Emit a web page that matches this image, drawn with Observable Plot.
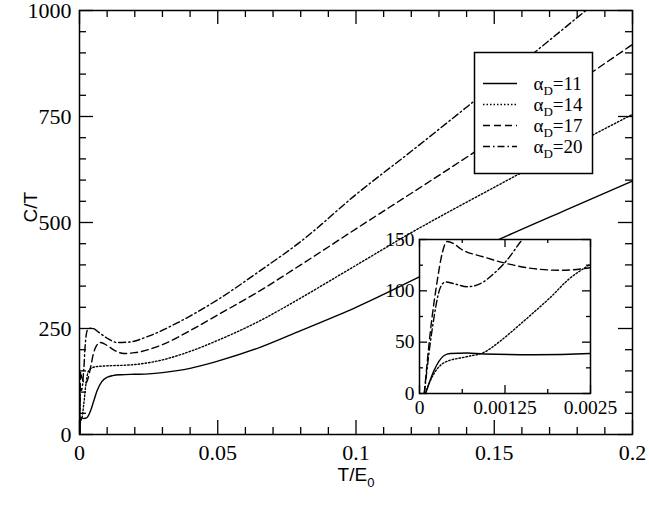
<!DOCTYPE html>
<html><head><meta charset="utf-8">
<script src="https://cdn.jsdelivr.net/npm/d3@7"></script>
<script src="https://cdn.jsdelivr.net/npm/@observablehq/plot@0.6"></script>
<style>
body{margin:0;background:#fff;}
#wrap{position:relative;width:649px;height:518px;}
#wrap svg{position:absolute;}
</style></head><body><div id="wrap"></div>
<script>
// ---- data ----
const seriesNames = ["11", "14", "17", "20"];

const T_a11 = [0.00009,0.00021,0.00036,0.00045,0.0007,0.00094,0.00167,0.0025,0.003,0.004,0.005,0.0064,0.008,0.01,0.012,0.015,0.02,0.025,0.03,0.04,0.05,0.0655,0.08,0.1,0.125,0.15,0.175,0.2];
const C_a11 = [0,22,37,39,39.5,38.5,37.8,39,42,56,76,104,124,135,139,141,142,143,146,156,173,206,245,300,378,455,527,598];

const T_a14 = [0.00008,0.0002,0.00036,0.0007,0.00094,0.00118,0.00143,0.00167,0.00192,0.00216,0.0025,0.003,0.0035,0.0045,0.006,0.01,0.015,0.02,0.03,0.04,0.05,0.0655,0.08,0.1,0.12,0.15,0.175,0.2];
const C_a14 = [0,18,30,36,40,51,65,79,94,110,126,145,152,157,160,162,163,165,176,196,222,269,322,399,476,583,670,755];

const T_a17 = [0.00007,0.00016,0.00026,0.00033,0.0004,0.0005,0.0006,0.00094,0.00128,0.00167,0.00206,0.0025,0.003,0.004,0.005,0.006,0.0076,0.01,0.013,0.016,0.02,0.03,0.04,0.05,0.0655,0.08,0.1,0.125,0.15,0.175,0.2];
const C_a17 = [0,61,110,136,148,146,141,133,126.5,121.6,120,122.6,130,158,190,208,217,210,197,191,193,212,245,282,340,400,485,590,697,808,920];

const T_a20 = [0.00007,0.00018,0.00031,0.00038,0.0005,0.0007,0.00089,0.00109,0.00128,0.00148,0.0016,0.002,0.0025,0.003,0.004,0.005,0.007,0.01,0.0137,0.018,0.025,0.035,0.05,0.0655,0.08,0.1,0.12,0.14,0.16,0.185];
const C_a20 = [0,60,104,108.6,107,104,107,117,130,148,158,205,238,248,251,250,241,227,217,218,232,262,318,387,455,566,668,772,877,1010];

// tick positions / labels
const xMajor = [0, 0.05, 0.1, 0.15, 0.2];
const xMinor = [0.01,0.02,0.03,0.04,0.06,0.07,0.08,0.09,0.11,0.12,0.13,0.14,0.16,0.17,0.18,0.19];
const yMajor = [0, 250, 500, 750, 1000];
const yMinor = [50,100,150,200,300,350,400,450,550,600,650,700,800,850,900,950];
const ixMajor = [0, 0.00125, 0.0025];
const ixMinor = [0.000625, 0.001875];
const iyMajor = [0, 50, 100, 150];
const iyMinor = [25, 75, 125];

// ---- build tables ----
const Ts = [T_a11, T_a14, T_a17, T_a20];
const Cs = [C_a11, C_a14, C_a17, C_a20];
const series = seriesNames.map((name, i) => Ts[i].map((t, j) => ({series: name, T: t, C: Cs[i][j]})));
const dashes = [null, "1.5,2", "7,4", "7,3,1.5,3"];

const serif = "Liberation Serif, Times New Roman, serif";
const sans = "Liberation Sans, Arial, sans-serif";

function lineMarks(rows, sw) {
  return rows.map((r, i) => Plot.line(r, {x: "T", y: "C", stroke: "black", strokeWidth: sw,
    strokeDasharray: dashes[i], clip: true, curve: "monotone-x"}));
}
function tickMarks(xMaj, xMin, yMaj, yMin, pw, ph, big, small) {
  const sw = 1.3;
  return [
    Plot.ruleX(xMaj, {x: d => d, insetTop: ph - big, strokeWidth: sw}),
    Plot.ruleX(xMaj, {x: d => d, insetBottom: ph - big, strokeWidth: sw}),
    Plot.ruleX(xMin, {x: d => d, insetTop: ph - small, strokeWidth: sw}),
    Plot.ruleX(xMin, {x: d => d, insetBottom: ph - small, strokeWidth: sw}),
    Plot.ruleY(yMaj, {y: d => d, insetRight: pw - big, strokeWidth: sw}),
    Plot.ruleY(yMaj, {y: d => d, insetLeft: pw - big, strokeWidth: sw}),
    Plot.ruleY(yMin, {y: d => d, insetRight: pw - small, strokeWidth: sw}),
    Plot.ruleY(yMin, {y: d => d, insetLeft: pw - small, strokeWidth: sw})
  ];
}

// ---- main chart ----
const W = 649, H = 518, mL = 79, mR = 17, mT = 10, mB = 84;
const main = Plot.plot({
  width: W, height: H, marginLeft: mL, marginRight: mR, marginTop: mT, marginBottom: mB,
  x: {domain: [0, 0.2], axis: null},
  y: {domain: [0, 1000], axis: null},
  style: {overflow: "visible", background: "white"},
  marks: [
    ...lineMarks(series, 1.4),
    ...tickMarks(xMajor, xMinor, yMajor, yMinor, W - mL - mR, H - mT - mB, 14, 7),
    Plot.frame({stroke: "black", strokeWidth: 1.5}),
    Plot.axisX({ticks: xMajor, tickSize: 0, tickPadding: 10, tickFormat: d => String(d), fontSize: 22, fontFamily: serif, label: null}),
    Plot.axisY({ticks: yMajor, tickSize: 0, tickPadding: 8, tickFormat: d => String(d), fontSize: 22, fontFamily: serif, label: null}),
    Plot.text(["C/T"], {text: d => d, frameAnchor: "left", dx: -49, rotate: -90, fontSize: 19, fontFamily: sans}),
    Plot.text(["T/E"], {text: d => d, frameAnchor: "bottom", dy: 46, fontSize: 19, fontFamily: sans})
  ]
});
d3.select(main).selectAll("text").filter(function () { return this.textContent === "T/E"; })
  .append("tspan").attr("font-size", 13).attr("dy", 6).text("0");

// ---- inset ----
const iL = 40, iR = 30, iT = 8, iB = 28, iW = 241, iH = 190;
const inset = Plot.plot({
  width: iW, height: iH, marginLeft: iL, marginRight: iR, marginTop: iT, marginBottom: iB,
  x: {domain: [0, 0.0025], axis: null},
  y: {domain: [0, 150], axis: null},
  style: {overflow: "visible", background: "transparent"},
  marks: [
    Plot.frame({fill: "white", stroke: null}),
    ...lineMarks(series.map(r => r.filter(d => d.T <= 0.003)), 1.4),
    ...tickMarks(ixMajor, ixMinor, iyMajor, iyMinor, iW - iL - iR, iH - iT - iB, 8, 4),
    Plot.frame({stroke: "black", strokeWidth: 1.5}),
    Plot.axisX({ticks: ixMajor, tickSize: 0, tickPadding: 7, tickFormat: d => String(d), fontSize: 19.5, fontFamily: serif, label: null}),
    Plot.axisY({ticks: iyMajor, tickSize: 0, tickPadding: 5, tickFormat: d => String(d), fontSize: 19.5, fontFamily: serif, label: null})
  ]
});
inset.style.left = (419 - iL) + "px";
inset.style.top = (239 - iT) + "px";

// ---- legend ----
const legend = Plot.plot({
  width: 120, height: 123, margin: 1,
  x: {domain: [0, 1], axis: null},
  y: {type: "point", domain: seriesNames, range: [21, 105], axis: null},
  style: {overflow: "visible", background: "transparent"},
  marks: [
    Plot.frame({fill: "white", stroke: "black", strokeWidth: 1.5}),
    ...seriesNames.map((s, i) => Plot.ruleY([s], {y: d => d, insetLeft: 9, insetRight: 75,
      stroke: "black", strokeWidth: 1.4, strokeDasharray: dashes[i]})),
    Plot.text(seriesNames, {y: d => d, text: d => d, frameAnchor: "left", dx: 59, textAnchor: "start",
      fontSize: 19, fontFamily: serif})
  ]
});
d3.select(legend).selectAll("text").filter(function () { return seriesNames.includes(this.textContent); })
  .each(function () {
    const v = this.textContent;
    const t = d3.select(this);
    t.text("α");
    t.append("tspan").attr("font-size", 13).attr("dy", 5).text("D");
    t.append("tspan").attr("dy", -5).text("=" + v);
  });
legend.style.left = "473px";
legend.style.top = "51px";

main.style.left = "0px";
main.style.top = "0px";
const wrap = document.getElementById("wrap");
wrap.appendChild(main);
wrap.appendChild(inset);
wrap.appendChild(legend);
</script>
</body></html>
